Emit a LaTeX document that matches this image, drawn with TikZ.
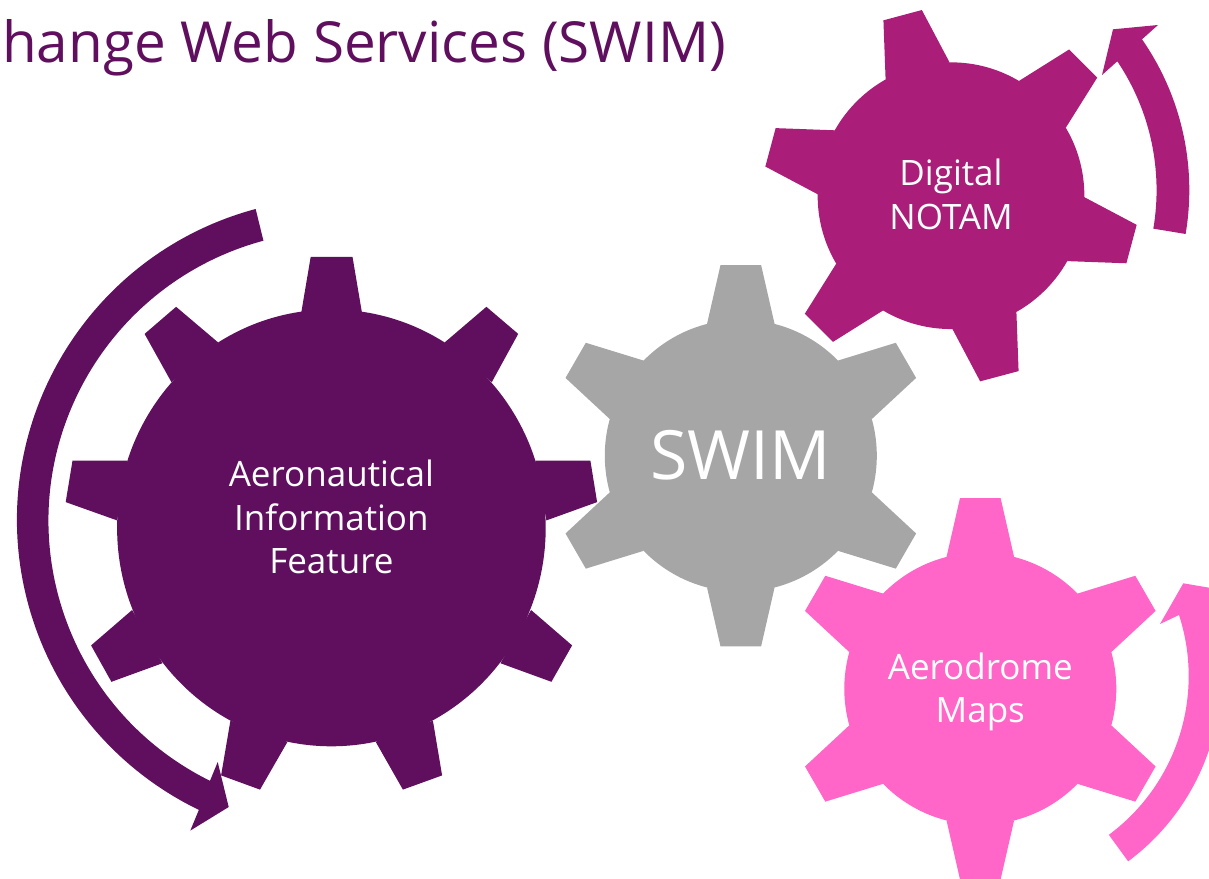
\documentclass[tikz,border=0pt]{standalone}
\usepackage{fontspec}
\setmainfont{Open Sans}
\usetikzlibrary{shapes.geometric}
\definecolor{aifColor}{HTML}{5F0F5E}
\definecolor{notamColor}{HTML}{AA1D78}
\definecolor{mapsColor}{HTML}{FF66C8}
\definecolor{swimColor}{HTML}{A6A6A6}
\tikzstyle{gear} = [circle, inner sep=0pt, outer sep=0pt]
\tikzstyle{caption} = [inner sep=0pt, text=white, align=center, font=\fontsize{35}{43.5}\selectfont]
\tikzstyle{title} = [anchor=base west, inner sep=0pt, text=aifColor, font=\fontsize{56.6}{60}\selectfont]
\newcommand{\sixteeth}[4]{%
	\foreach \a in {0,60,...,300}
		\fill [#2, shift={(#1)}, rotate=#3+\a, scale=#4]
			(-33.8,-131.7) -- (-20.3,-190.7) -- (20.3,-190.7) -- (33.8,-131.7) -- cycle;
}

\begin{document}
\begin{tikzpicture}[x=1pt, y=-1pt]
		\useasboundingbox (0,0) rectangle (1209,878);
		\clip (0,0) rectangle (1209,878);
		%Place node
		\node [title] (head) at (2,62) {hange Web Services (SWIM)};
		\node [ellipse, fill=aifColor, inner sep=0pt, outer sep=0pt, minimum width=428.6pt, minimum height=436.8pt] (aif) at (331.4,527.9) {};
		\node [gear, fill=swimColor, minimum size=272pt] (swim) at (740.8,455.7) {};
		\node [gear, fill=notamColor, minimum size=266.7pt] (notam) at (951,195.7) {};
		\node [gear, fill=mapsColor, minimum size=272pt] (maps) at (980.3,688.7) {};
		
		%Draw teeth
		\foreach \t in {
			{(301.4,311.8) -- (310.7,256.8) -- (352.5,256.8) -- (361.8,311.8)},
			{(444.6,342.5) -- (486.4,306.8) -- (518.2,333.9) -- (491.8,382.1)},
			{(535.4,460.7) -- (590.4,460.7) -- (597.1,502.1) -- (546.4,520.4)},
			{(531.1,610) -- (572.1,645.4) -- (551.4,681.8) -- (500.4,663.2)},
			{(432.9,720.7) -- (442.1,775.4) -- (402.9,789.6) -- (375.7,741.8)},
			{(287.5,741.8) -- (260,789.6) -- (221.1,775.4) -- (230.4,720.7)},
			{(162.5,663.2) -- (111.4,681.8) -- (91.1,645.4) -- (132.1,610)},
			{(117.1,520.4) -- (65.7,502.1) -- (72.5,460.7) -- (127.5,460.7)},
			{(171.4,382.1) -- (144.6,333.9) -- (176.1,306.8) -- (218.2,342.5)}}
			\fill [aifColor] \t -- cycle;
		\sixteeth{swim}{swimColor}{0}{1}
		\sixteeth{notam}{notamColor}{15}{0.98}
		\sixteeth{maps}{mapsColor}{0}{1}
		
		%Place labels
		\node [caption] (aifLabel) at (331.4,517) {Aeronautical\\Information\\Feature};
		\node [caption, font=\fontsize{68}{70}\selectfont] (swimLabel) at (740.8,455.7) {SWIM};
		\node [caption] (notamLabel) at (951,194.5) {Digital\\NOTAM};
		\node [caption] (mapsLabel) at (980.3,692) {Aerodrome\\Maps};
		
		%Draw arrows
		\fill [aifColor] (339,520) ++(255:322) arc [start angle=255, end angle=115.8, radius=322]
			-- (190.3,830.6) -- (228.7,807) -- (217.7,762) -- (210,780.8)
			arc [start angle=116.3, end angle=255, radius=290] -- cycle;
		\fill [notamColor] (925.6,190) ++(9.6:263.7) arc [start angle=9.6, end angle=-34.85, radius=263.7]
			-- (1158,25) -- (1113,29.3) -- (1102,75) -- (1117.3,61.3)
			arc [start angle=-33.9, end angle=9.6, radius=231] -- cycle;
		\fill [mapsColor] (991,676.7) ++(53.4:230) arc [start angle=53.4, end angle=-18, radius=230]
			-- (1232,591.6) -- (1183.3,583.3) -- (1160,624) -- (1179,615)
			arc [start angle=-18, end angle=53.4, radius=197.7] -- cycle;
		
	\end{tikzpicture}
\end{document}
